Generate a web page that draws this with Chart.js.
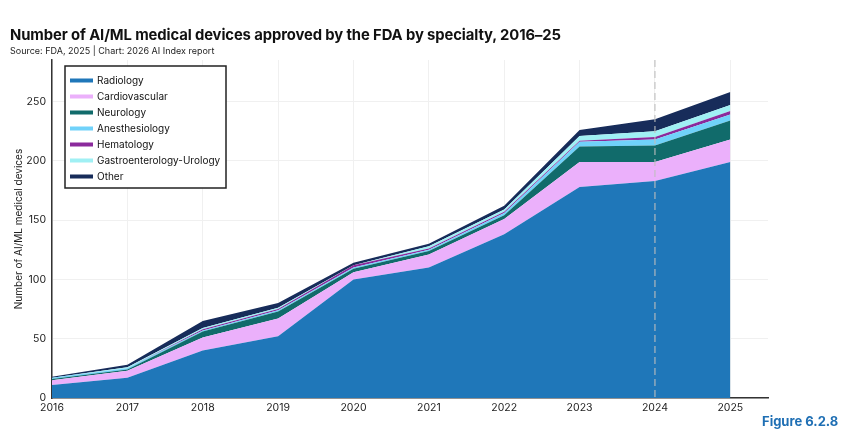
<!DOCTYPE html>
<html><head><meta charset="utf-8">
<script src="https://cdn.jsdelivr.net/npm/chart.js@4"></script>
<style>
html,body{margin:0;padding:0;background:#fff;}
#wrap{position:relative;width:850px;height:444px;font-family:Inter,"DejaVu Sans",sans-serif;}
#title{position:absolute;left:10px;top:26px;font-size:14.8px;font-weight:700;color:#111;white-space:nowrap;letter-spacing:-0.1px;}
#sub{position:absolute;left:10px;top:45px;font-size:9px;color:#222;white-space:nowrap;}
#fig{position:absolute;left:762px;top:413px;font-size:13px;font-weight:700;color:#1f6fb4;white-space:nowrap;}
canvas{position:absolute;left:0;top:0;}
</style></head>
<body>
<div id="wrap">
<canvas id="c" width="850" height="444"></canvas>
<div id="title">Number of AI/ML medical devices approved by the FDA by specialty, 2016–25</div>
<div id="sub">Source: FDA, 2025 | Chart: 2026 AI Index report</div>
<div id="fig">Figure 6.2.8</div>
</div>
<script>
const years = [2016, 2017, 2018, 2019, 2020, 2021, 2022, 2023, 2024, 2025];
const radiology      = [11, 17, 40, 52, 100, 110, 138, 178, 183, 199];
const cardiovascular = [4, 6, 11, 15, 6, 11, 13, 21, 16, 19];
const neurology      = [1, 1, 5, 6, 3, 3, 3, 13, 14, 16];
const anesthesiology = [1, 1, 1, 1, 1, 1, 2, 4, 5, 5];
const hematology     = [0, 0, 1, 1, 2, 1, 1, 1, 2, 3];
const gastroUrology  = [0, 1, 1, 1, 0, 2, 2, 4, 5, 5];
const other          = [1, 2, 6, 4, 2, 2, 3, 5, 10, 11];
const yTicks = [0, 50, 100, 150, 200, 250];
const markerYear = 2024;

const series = [
  ['Radiology', radiology, '#1f77b9'],
  ['Cardiovascular', cardiovascular, '#ebb0fb'],
  ['Neurology', neurology, '#116b6b'],
  ['Anesthesiology', anesthesiology, '#70d2fa'],
  ['Hematology', hematology, '#8b2a9c'],
  ['Gastroenterology-Urology', gastroUrology, '#a0f0f4'],
  ['Other', other, '#172c5a']
];

const datasets = series.map(([label, vals, color], i) => ({
  label,
  data: years.map((y, k) => ({x: y, y: vals[k]})),
  backgroundColor: color,
  borderColor: color,
  borderWidth: 0,
  pointRadius: 0,
  tension: 0,
  fill: i === 0 ? 'origin' : '-1'
}));

const FONT = 'Inter, "DejaVu Sans", sans-serif';

const markerPlugin = {
  id: 'marker',
  afterDatasetsDraw(chart) {
    const {ctx, chartArea, scales} = chart;
    const x = scales.x.getPixelForValue(markerYear);
    ctx.save();
    ctx.strokeStyle = 'rgba(190,190,190,0.9)';
    ctx.lineWidth = 1.2;
    ctx.setLineDash([7, 4]);
    ctx.beginPath();
    ctx.moveTo(x, chartArea.top);
    ctx.lineTo(x, chartArea.bottom);
    ctx.stroke();
    ctx.restore();
  }
};

const legendPlugin = {
  id: 'boxLegend',
  afterDraw(chart) {
    const {ctx} = chart;
    const bx = 65, by = 66, bw = 161, bh = 122;
    ctx.save();
    ctx.fillStyle = '#fff';
    ctx.fillRect(bx, by, bw, bh);
    ctx.strokeStyle = '#222';
    ctx.lineWidth = 1.5;
    ctx.strokeRect(bx, by, bw, bh);
    ctx.font = '10px ' + FONT;
    ctx.textBaseline = 'middle';
    chart.data.datasets.forEach((ds, i) => {
      const cy = 80.5 + i * 16;
      ctx.fillStyle = ds.backgroundColor;
      ctx.fillRect(70, cy - 2, 23, 4);
      ctx.fillStyle = '#111';
      ctx.fillText(ds.label, 97, cy);
    });
    ctx.restore();
  }
};

new Chart(document.getElementById('c'), {
  type: 'line',
  data: {datasets},
  options: {
    responsive: false,
    animation: false,
    layout: {padding: {top: 60, right: 82, bottom: 20, left: 0}},
    plugins: {legend: {display: false}, tooltip: {enabled: false}},
    elements: {line: {borderWidth: 0}},
    scales: {
      x: {
        type: 'linear',
        min: 2016,
        max: 2025.5,
        afterFit(s) { s.height = 26; },
        ticks: {
          stepSize: 1,
          includeBounds: false,
          autoSkip: false,
          maxRotation: 0,
          padding: 4,
          color: '#222',
          font: {family: FONT, size: 10.5},
          callback: v => String(v)
        },
        grid: {color: '#f0f0f0', drawTicks: false},
        border: {display: true, color: '#333', width: 1.5}
      },
      y: {
        stacked: true,
        min: 0,
        max: 285,
        afterFit(s) { s.width = 52; },
        afterBuildTicks(s) { s.ticks = yTicks.map(v => ({value: v})); },
        ticks: {
          padding: 6,
          color: '#222',
          font: {family: FONT, size: 10.5},
          callback: v => String(v)
        },
        grid: {color: '#f0f0f0', drawTicks: false},
        border: {display: true, color: '#333', width: 1.5},
        title: {
          display: true,
          text: 'Number of AI/ML medical devices',
          color: '#222',
          font: {family: FONT, size: 10},
          padding: {top: 13, bottom: 0}
        }
      }
    }
  },
  plugins: [markerPlugin, legendPlugin]
});
</script>
</body></html>
